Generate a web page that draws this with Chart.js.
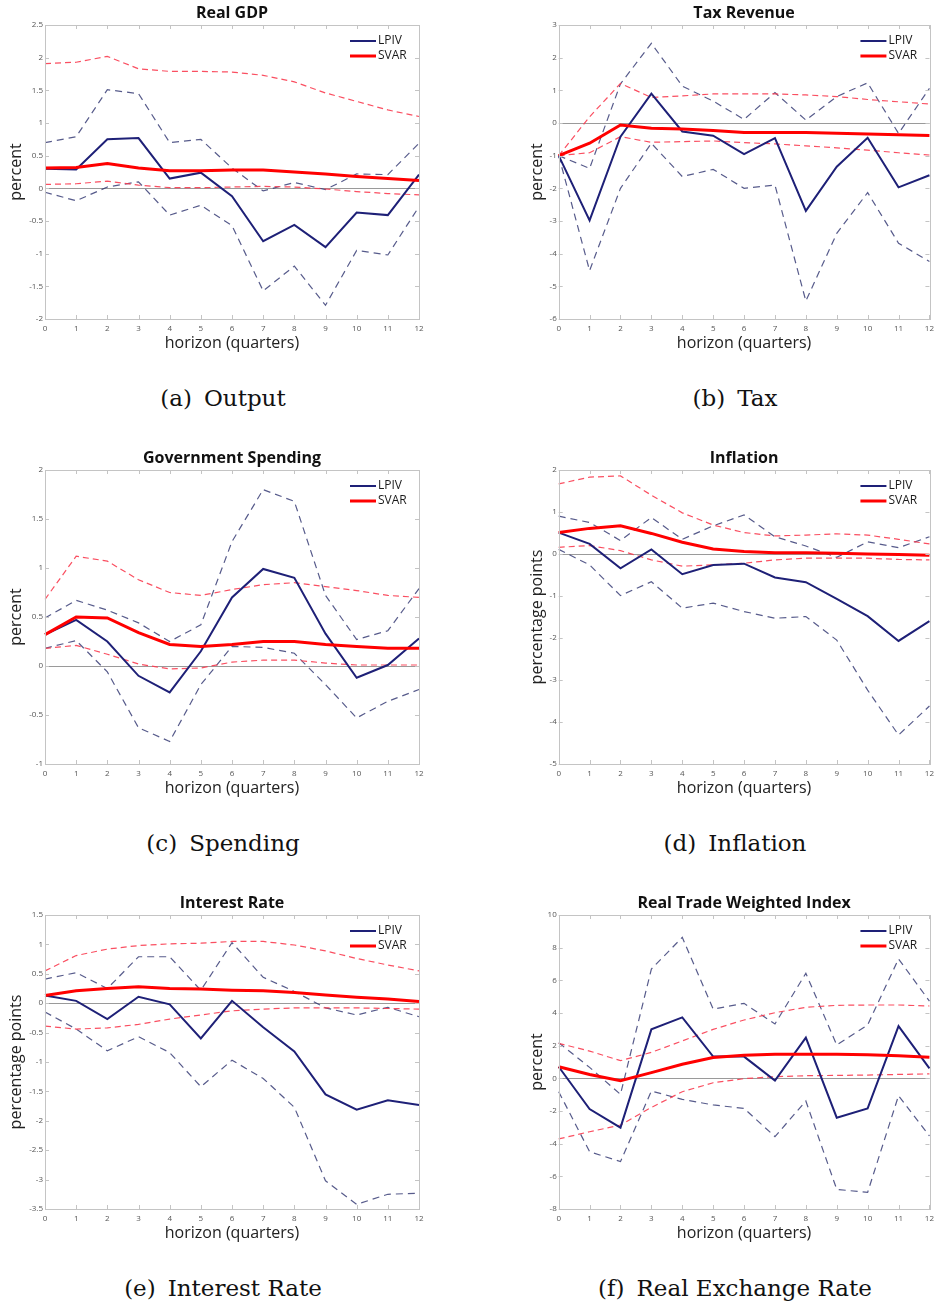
<!DOCTYPE html>
<html><head><meta charset="utf-8">
<script src="https://cdn.jsdelivr.net/npm/chart.js@4.4.1/dist/chart.umd.min.js"></script>
<style>
html,body{margin:0;padding:0;background:#fff;width:939px;height:1306px;overflow:hidden;position:relative}
canvas{position:absolute}
.cap{position:absolute;font-family:"DejaVu Serif",serif;font-size:23px;color:#111;white-space:nowrap;transform:translate(-50%,-50%)}
.cap span{margin-right:12px}
</style></head><body>
<canvas id="c0" width="440" height="360" style="left:0;top:0"></canvas>
<canvas id="c1" width="439" height="360" style="left:500px;top:0"></canvas>
<canvas id="c2" width="440" height="360" style="left:0;top:445px"></canvas>
<canvas id="c3" width="439" height="360" style="left:500px;top:445px"></canvas>
<canvas id="c4" width="440" height="360" style="left:0;top:890px"></canvas>
<canvas id="c5" width="439" height="360" style="left:500px;top:890px"></canvas>
<div class="cap" style="left:223px;top:398px"><span>(a)</span>Output</div>
<div class="cap" style="left:735px;top:398px"><span>(b)</span>Tax</div>
<div class="cap" style="left:223px;top:843px"><span>(c)</span>Spending</div>
<div class="cap" style="left:735px;top:843px"><span>(d)</span>Inflation</div>
<div class="cap" style="left:223px;top:1288px"><span>(e)</span>Interest Rate</div>
<div class="cap" style="left:735px;top:1288px"><span>(f)</span>Real Exchange Rate</div>
<script>
const horizons = [0,1,2,3,4,5,6,7,8,9,10,11,12];
const xTitle = 'horizon (quarters)';

// (a) Real GDP
const gdpRange = [-2, 2.5, 0.5];
const gdpLpiv   = [0.30, 0.29, 0.75, 0.77, 0.15, 0.24, -0.12, -0.81, -0.56, -0.90, -0.37, -0.41, 0.21];
const gdpLpivUp = [0.70, 0.79, 1.51, 1.45, 0.70, 0.75, 0.31, -0.04, 0.09, -0.02, 0.22, 0.21, 0.69];
const gdpLpivLo = [-0.06, -0.19, 0.02, 0.10, -0.41, -0.26, -0.57, -1.57, -1.19, -1.79, -0.95, -1.02, -0.28];
const gdpSvar   = [0.31, 0.32, 0.38, 0.31, 0.27, 0.27, 0.28, 0.28, 0.25, 0.22, 0.18, 0.15, 0.12];
const gdpSvarUp = [1.91, 1.93, 2.02, 1.83, 1.79, 1.79, 1.78, 1.73, 1.63, 1.46, 1.33, 1.20, 1.10];
const gdpSvarLo = [0.06, 0.07, 0.11, 0.05, 0.01, 0.01, 0.02, 0.03, 0.02, -0.01, -0.05, -0.08, -0.10];

// (b) Tax Revenue
const taxRange = [-6, 3, 1];
const taxLpiv   = [-1.00, -2.98, -0.42, 0.90, -0.26, -0.39, -0.95, -0.46, -2.69, -1.34, -0.45, -1.97, -1.60];
const taxLpivUp = [-1.00, -1.39, 1.20, 2.44, 1.13, 0.67, 0.11, 0.93, 0.09, 0.81, 1.23, -0.32, 1.06];
const taxLpivLo = [-1.00, -4.52, -2.00, -0.62, -1.64, -1.42, -2.00, -1.90, -5.45, -3.38, -2.13, -3.68, -4.24];
const taxSvar   = [-1.00, -0.62, -0.06, -0.16, -0.18, -0.23, -0.29, -0.29, -0.29, -0.31, -0.34, -0.36, -0.38];
const taxSvarUp = [-1.00, 0.19, 1.21, 0.78, 0.83, 0.89, 0.89, 0.89, 0.86, 0.81, 0.72, 0.65, 0.58];
const taxSvarLo = [-1.00, -0.91, -0.42, -0.59, -0.57, -0.55, -0.60, -0.64, -0.70, -0.76, -0.83, -0.91, -0.98];

// (c) Government Spending
const govRange = [-1, 2, 0.5];
const govLpiv   = [0.32, 0.47, 0.25, -0.10, -0.27, 0.15, 0.70, 0.99, 0.90, 0.33, -0.12, 0.01, 0.28];
const govLpivUp = [0.49, 0.67, 0.57, 0.44, 0.25, 0.42, 1.27, 1.80, 1.68, 0.72, 0.27, 0.36, 0.79];
const govLpivLo = [0.18, 0.26, -0.06, -0.63, -0.77, -0.19, 0.20, 0.19, 0.13, -0.19, -0.53, -0.36, -0.24];
const govSvar   = [0.32, 0.50, 0.49, 0.34, 0.22, 0.20, 0.22, 0.25, 0.25, 0.22, 0.20, 0.18, 0.18];
const govSvarUp = [0.68, 1.12, 1.07, 0.88, 0.75, 0.72, 0.78, 0.83, 0.85, 0.81, 0.77, 0.72, 0.70];
const govSvarLo = [0.18, 0.21, 0.12, 0.02, -0.03, -0.02, 0.04, 0.06, 0.06, 0.03, 0.01, 0.01, 0.01];

// (d) Inflation
const infRange = [-5, 2, 1];
const infLpiv   = [0.51, 0.24, -0.34, 0.11, -0.48, -0.26, -0.23, -0.56, -0.67, -1.07, -1.48, -2.07, -1.60];
const infLpivUp = [0.90, 0.75, 0.32, 0.87, 0.35, 0.67, 0.93, 0.41, 0.19, -0.08, 0.29, 0.15, 0.41];
const infLpivLo = [0.11, -0.26, -0.99, -0.66, -1.29, -1.17, -1.37, -1.53, -1.49, -2.05, -3.24, -4.31, -3.62];
const infSvar   = [0.51, 0.61, 0.67, 0.49, 0.28, 0.12, 0.06, 0.03, 0.03, 0.02, 0.00, -0.01, -0.03];
const infSvarUp = [1.67, 1.83, 1.86, 1.40, 0.98, 0.69, 0.51, 0.43, 0.45, 0.48, 0.45, 0.35, 0.24];
const infSvarLo = [0.16, 0.20, 0.08, -0.14, -0.29, -0.26, -0.22, -0.14, -0.10, -0.10, -0.10, -0.13, -0.14];

// (e) Interest Rate
const irRange = [-3.5, 1.5, 0.5];
const irLpiv   = [0.13, 0.04, -0.27, 0.11, -0.02, -0.60, 0.04, -0.41, -0.82, -1.55, -1.81, -1.65, -1.73];
const irLpivUp = [0.41, 0.52, 0.25, 0.79, 0.79, 0.22, 1.03, 0.44, 0.20, -0.08, -0.20, -0.07, -0.23];
const irLpivLo = [-0.15, -0.44, -0.81, -0.57, -0.84, -1.42, -0.97, -1.28, -1.77, -3.02, -3.42, -3.25, -3.23];
const irSvar   = [0.13, 0.21, 0.25, 0.28, 0.25, 0.24, 0.22, 0.21, 0.18, 0.14, 0.10, 0.07, 0.03];
const irSvarUp = [0.55, 0.81, 0.92, 0.98, 1.01, 1.02, 1.05, 1.05, 0.99, 0.89, 0.76, 0.65, 0.55];
const irSvarLo = [-0.39, -0.44, -0.42, -0.36, -0.27, -0.20, -0.13, -0.10, -0.08, -0.08, -0.08, -0.09, -0.10];

// (f) Real Trade Weighted Index
const twiRange = [-8, 10, 2];
const twiLpiv   = [0.71, -1.88, -3.02, 3.00, 3.73, 1.33, 1.33, -0.14, 2.49, -2.41, -1.84, 3.20, 0.61];
const twiLpivUp = [2.18, 0.67, -0.98, 6.69, 8.63, 4.24, 4.59, 3.33, 6.43, 2.04, 3.27, 7.31, 4.73];
const twiLpivLo = [-0.82, -4.49, -5.10, -0.78, -1.29, -1.63, -1.84, -3.57, -1.39, -6.80, -6.98, -1.06, -3.53];
const twiSvar   = [0.71, 0.24, -0.14, 0.35, 0.86, 1.27, 1.41, 1.47, 1.47, 1.47, 1.45, 1.39, 1.29];
const twiSvarUp = [2.14, 1.67, 1.08, 1.59, 2.29, 3.00, 3.57, 4.02, 4.35, 4.47, 4.49, 4.49, 4.43];
const twiSvarLo = [-3.71, -3.27, -2.86, -1.78, -0.82, -0.27, -0.02, 0.10, 0.16, 0.18, 0.20, 0.24, 0.27];

const panels = [
  {id:'c0', col:0, title:'Real GDP', yLabel:'percent', range:gdpRange, lpiv:gdpLpiv, lpivUp:gdpLpivUp, lpivLo:gdpLpivLo, svar:gdpSvar, svarUp:gdpSvarUp, svarLo:gdpSvarLo},
  {id:'c1', col:1, title:'Tax Revenue', yLabel:'percent', range:taxRange, lpiv:taxLpiv, lpivUp:taxLpivUp, lpivLo:taxLpivLo, svar:taxSvar, svarUp:taxSvarUp, svarLo:taxSvarLo},
  {id:'c2', col:0, title:'Government Spending', yLabel:'percent', range:govRange, lpiv:govLpiv, lpivUp:govLpivUp, lpivLo:govLpivLo, svar:govSvar, svarUp:govSvarUp, svarLo:govSvarLo},
  {id:'c3', col:1, title:'Inflation', yLabel:'percentage points', range:infRange, lpiv:infLpiv, lpivUp:infLpivUp, lpivLo:infLpivLo, svar:infSvar, svarUp:infSvarUp, svarLo:infSvarLo},
  {id:'c4', col:0, title:'Interest Rate', yLabel:'percentage points', range:irRange, lpiv:irLpiv, lpivUp:irLpivUp, lpivLo:irLpivLo, svar:irSvar, svarUp:irSvarUp, svarLo:irSvarLo},
  {id:'c5', col:1, title:'Real Trade Weighted Index', yLabel:'percent', range:twiRange, lpiv:twiLpiv, lpivUp:twiLpivUp, lpivLo:twiLpivLo, svar:twiSvar, svarUp:twiSvarUp, svarLo:twiSvarLo}
];

const LPIV_COLOR = '#1e2077';
const SVAR_COLOR = '#ff0000';
const LPIV_BAND = 'rgba(45,50,110,0.8)';
const SVAR_BAND = 'rgba(250,60,80,0.9)';
const SANS = '"Open Sans", "Liberation Sans", sans-serif';

const framePlugin = {
  id: 'frame',
  afterDraw(chart) {
    const {ctx, chartArea: a, scales} = chart;
    ctx.save();
    ctx.strokeStyle = '#c4c4c4';
    ctx.lineWidth = 1;
    ctx.strokeRect(Math.round(a.left) + 0.5, Math.round(a.top) + 0.5, Math.round(a.right - a.left), Math.round(a.bottom - a.top));
    ctx.beginPath();
    scales.y.ticks.forEach((t) => {
      const y = Math.round(scales.y.getPixelForValue(t.value)) + 0.5;
      ctx.moveTo(a.left, y); ctx.lineTo(a.left + 4, y);
      ctx.moveTo(a.right, y); ctx.lineTo(a.right - 4, y);
    });
    scales.x.ticks.forEach((t, i) => {
      const x = Math.round(scales.x.getPixelForTick(i)) + 0.5;
      ctx.moveTo(x, a.bottom); ctx.lineTo(x, a.bottom - 4);
      ctx.moveTo(x, a.top); ctx.lineTo(x, a.top + 4);
    });
    ctx.stroke();
    // legend
    const order = ['LPIV', 'SVAR'];
    ctx.font = '12px ' + SANS;
    ctx.textBaseline = 'middle';
    ctx.textAlign = 'left';
    order.forEach((name, i) => {
      const ds = chart.data.datasets.find(d => d.label === name);
      const y = a.top + 16 + i * 15;
      ctx.strokeStyle = ds.borderColor;
      ctx.lineWidth = ds.borderWidth;
      ctx.beginPath();
      ctx.moveTo(a.right - 69, y); ctx.lineTo(a.right - 43, y);
      ctx.stroke();
      ctx.fillStyle = '#1a1a1a';
      ctx.fillText(name, a.right - 41, y);
    });
    ctx.restore();
  }
};

function makeChart(p) {
  const yW = p.col === 0 ? 45 : 58.7;
  const padR = p.col === 0 ? 21 : 7;
  const yTitleCenter = p.col === 0 ? 16.7 : 37;
  const [ymin, ymax, ystep] = p.range;
  new Chart(document.getElementById(p.id), {
    type: 'line',
    data: {
      labels: horizons,
      datasets: [
        {label: 'SVAR', data: p.svar, borderColor: SVAR_COLOR, borderWidth: 3},
        {label: 'LPIV', data: p.lpiv, borderColor: LPIV_COLOR, borderWidth: 2},
        {data: p.svarUp, borderColor: SVAR_BAND, borderWidth: 1.2, borderDash: [6, 4]},
        {data: p.svarLo, borderColor: SVAR_BAND, borderWidth: 1.2, borderDash: [6, 4]},
        {data: p.lpivUp, borderColor: LPIV_BAND, borderWidth: 1.2, borderDash: [7, 5]},
        {data: p.lpivLo, borderColor: LPIV_BAND, borderWidth: 1.2, borderDash: [7, 5]}
      ]
    },
    options: {
      responsive: false,
      animation: false,
      devicePixelRatio: 1,
      layout: {padding: {left: 0, right: padR, top: 0, bottom: 0}},
      elements: {point: {radius: 0}, line: {tension: 0, fill: false}},
      plugins: {
        legend: {display: false},
        tooltip: {enabled: false},
        title: {display: true, text: p.title, fullSize: false, color: '#111',
          font: {family: SANS, size: 16, weight: 'bold'}, padding: {top: 3.8, bottom: 2}}
      },
      scales: {
        x: {
          ticks: {font: {family: SANS, size: 8}, color: '#555', padding: 5, autoSkip: false, maxRotation: 0},
          grid: {display: false, drawTicks: false},
          border: {display: false},
          title: {display: true, text: xTitle, color: '#222', font: {family: SANS, size: 16}, padding: {top: 0, bottom: 7.1}},
          afterFit(s) { s.height = 41; }
        },
        y: {
          min: ymin, max: ymax,
          ticks: {stepSize: ystep, font: {family: SANS, size: 8}, color: '#555', padding: 2,
            callback: (v) => String(Number(Number(v).toFixed(2)))},
          grid: {drawTicks: false, color: (c) => c.tick && c.tick.value === 0 ? '#9a9a9a' : 'rgba(0,0,0,0)', lineWidth: 1},
          border: {display: false},
          title: {display: true, text: p.yLabel, color: '#222', font: {family: SANS, size: 16}, padding: {top: yTitleCenter - 9.6, bottom: 0}},
          afterFit(s) { s.width = yW; }
        }
      }
    },
    plugins: [framePlugin]
  });
}
panels.forEach(makeChart);
</script>
</body></html>
